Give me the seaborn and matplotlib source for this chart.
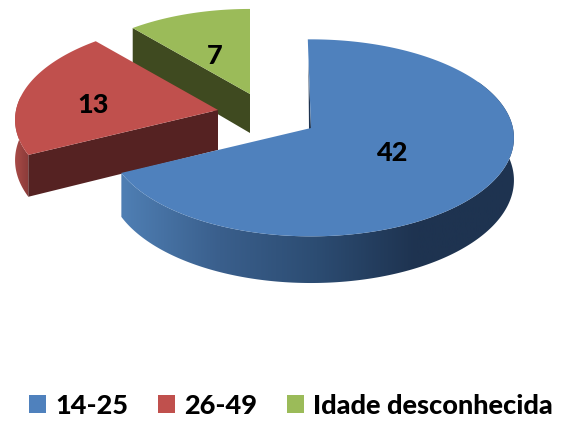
import numpy as np
import seaborn as sns
import matplotlib.pyplot as plt
from matplotlib.patches import Patch, Polygon

sns.set_theme(style='white')
plt.rcParams['font.family'] = ['Lato', 'DejaVu Sans']

#dados do grafico
faixas = ['14-25', '26-49', 'Idade desconhecida']
valores = [42, 13, 7]
cores = ['#4F81BD', '#C0504D', '#9BBB59']
cores_lado = ['#1E3350', '#552222', '#3F4A20']

#centro de cada fatia (fatias explodidas), escala e altura da parede
centros = [(311, 128), (218, 110), (250, 94)]
escalas = [0.985, 0.985, 0.945]
alturas = [42, 40, 39]
rx, ry, k = 205, 99, 0.1
pos_rotulo = [(0.45, 1), (0.63, 7), (0.52, 8)]


def projeta(ang, r=1.0):
    #circulo visto em perspectiva, angulo em graus a partir do topo (horario)
    a = np.radians(ang)
    u, v = r * np.sin(a), -r * np.cos(a)
    d = 1 - k * v
    return rx * u / d, ry * v / d, 1 / d


fig = plt.figure(figsize=(5.68, 4.22), dpi=100)
ax = fig.add_axes([0, 0, 1, 1])
ax.axis('off')

total = sum(valores)
fim = np.cumsum(valores) / total * 360
inicio = np.r_[-1, fim[:-1]]

#degrade da parede azul
degrade = sns.blend_palette(['#4F7FB4', '#3A5F8C', '#2C4C72', '#1E3350', '#1E3350'], 200, as_cmap=True)
degrade2 = sns.blend_palette(['#A84A47', '#8A3B39'], 50, as_cmap=True)

#desenha de tras para frente: verde, vermelho, azul
for i in [2, 1, 0]:
    cx, cy = centros[i]
    h = alturas[i]
    e = escalas[i]
    angs = np.linspace(inicio[i], fim[i], 300)
    xs, ys, esc = projeta(angs)
    xs, ys = xs * e, ys * e
    base = i * -10

    #parede reta da borda esquerda da fatia
    if i > 0:
        ax.fill([cx, cx + xs[0], cx + xs[0], cx],
                [cy, cy + ys[0], cy + ys[0] + h * esc[0], cy + h],
                color=cores_lado[i], lw=0, zorder=base)
    else:
        ax.fill([cx - 2.6, cx, cx - 2], [cy - 68, cy + 1, cy + 1],
                color=cores_lado[0], lw=0, zorder=1)

    #parede curva com degrade
    if i < 2:
        sel = angs > 60 if i == 0 else angs < 278
        px = cx + xs[sel]
        py = cy + ys[sel]
        pb = py + h * esc[sel]
        parede = Polygon(np.c_[np.r_[px, px[::-1]], np.r_[py, pb[::-1]]], transform=ax.transData)
        img = ax.imshow(np.linspace(0, 1, 256).reshape(1, -1), extent=(px.min(), px.max(), 422, 0),
                        aspect='auto', cmap=degrade if i == 0 else degrade2, zorder=2 if i == 0 else base - 1)
        img.set_clip_path(parede)

    #tampa da fatia
    ax.fill(np.r_[cx, cx + xs], np.r_[cy, cy + ys], color=cores[i], lw=0,
            zorder=3 if i == 0 else base + 1)

    #rotulo
    meio = (inicio[i] + fim[i]) / 2
    lx, ly, _ = projeta(meio, pos_rotulo[i][0])
    ax.text(cx + lx, cy + ly + pos_rotulo[i][1], str(valores[i]), fontsize=19.5, fontweight='black',
            color='black', ha='center', va='center', zorder=5)

ax.set_xlim(0, 568)
ax.set_ylim(422, 0)

handles = [Patch(color=c, lw=0) for c in cores]
ax.legend(handles, faixas, loc='lower left', bbox_to_anchor=(24 / 568, 1 - 423 / 422), ncol=3, frameon=False,
          prop={'size': 19.5, 'weight': 'black'}, handlelength=0.63, handleheight=0.63,
          handletextpad=0.33, columnspacing=1.1, labelcolor='black', borderpad=0.2, borderaxespad=0)

fig.savefig('out.png', dpi=100)
